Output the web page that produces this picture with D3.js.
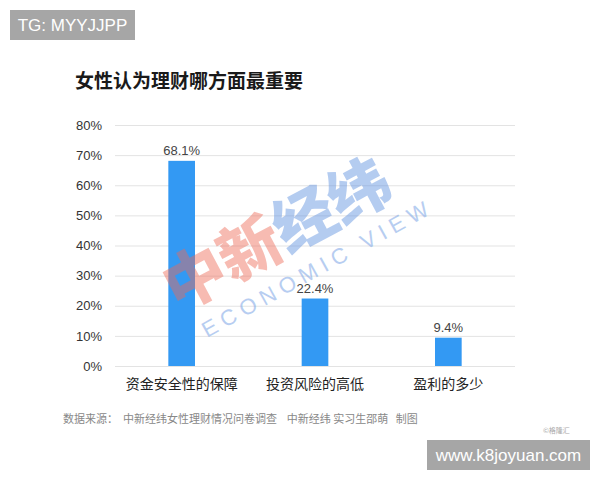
<!DOCTYPE html>
<html>
<head>
<meta charset="utf-8">
<script src="https://cdn.jsdelivr.net/npm/d3@7"></script>
<style>
  html, body { margin: 0; padding: 0; background: #fff; }
  svg { display: block; }
  text { font-family: "Noto Sans CJK SC", "Noto Sans", sans-serif; }
</style>
</head>
<body>
<svg id="chart" width="600" height="480"></svg>
<script>
// Survey results: what women consider most important in wealth management
const categories = ["资金安全性的保障", "投资风险的高低", "盈利的多少"];
const values = [68.1, 22.4, 9.4];
const yTicks = [0, 10, 20, 30, 40, 50, 60, 70, 80];

const svg = d3.select("#chart");
const W = 600, H = 480;

svg.append("rect").attr("width", W).attr("height", H).attr("fill", "#fff");

const plot = { left: 115, right: 515, top: 125, bottom: 366 };

const x = d3.scaleBand()
  .domain(categories)
  .range([plot.left, plot.right])
  .paddingInner(0.8)
  .paddingOuter(0.4);

const y = d3.scaleLinear().domain([0, 80]).range([plot.bottom, plot.top]);

// Title
svg.append("text")
  .attr("x", 75).attr("y", 88)
  .attr("font-size", 19).attr("font-weight", "bold").attr("fill", "#1a1a1a")
  .text("女性认为理财哪方面最重要");

// Gridlines and y-axis labels
const yAxis = d3.axisLeft(y)
  .tickValues(yTicks)
  .tickSize(-(plot.right - plot.left))
  .tickPadding(13)
  .tickFormat(d => d + "%");

const gy = svg.append("g")
  .attr("transform", `translate(${plot.left},0)`)
  .call(yAxis);
gy.select(".domain").remove();
gy.selectAll(".tick line").attr("stroke", "#e3e3e3").attr("stroke-width", 1);
gy.selectAll(".tick text")
  .attr("fill", "#333").attr("font-size", 13)
  .style("font-family", "Arial, 'Liberation Sans', sans-serif");

// Bars
svg.append("g").selectAll("rect")
  .data(values)
  .join("rect")
  .attr("x", (d, i) => x(categories[i]))
  .attr("y", d => y(d))
  .attr("width", x.bandwidth())
  .attr("height", d => y(0) - y(d))
  .attr("fill", "#3399f3");

// Value labels
svg.append("g").selectAll("text")
  .data(values)
  .join("text")
  .attr("x", (d, i) => x(categories[i]) + x.bandwidth() / 2)
  .attr("y", d => y(d) - 6)
  .attr("text-anchor", "middle")
  .attr("font-size", 13).attr("fill", "#444")
  .style("font-family", "Arial, 'Liberation Sans', sans-serif")
  .text(d => d.toFixed(1) + "%");

// Category labels
const gx = svg.append("g")
  .attr("transform", `translate(0,${plot.bottom})`)
  .call(d3.axisBottom(x).tickSize(0).tickPadding(13));
gx.select(".domain").remove();
gx.selectAll(".tick text")
  .attr("font-size", 14).attr("fill", "#222")
  .style("font-family", "'Noto Sans CJK SC', sans-serif");

// Watermark logo
const wmCn = svg.append("g")
  .attr("transform", "translate(178,312) rotate(-28)")
  .attr("opacity", 0.45);
wmCn.append("text")
  .attr("x", 0).attr("y", 0)
  .attr("font-size", 62).attr("font-weight", "900")
  .attr("fill", "#ee6a57")
  .text("中新");
wmCn.append("text")
  .attr("x", 124).attr("y", 0)
  .attr("font-size", 62).attr("font-weight", "900")
  .attr("fill", "#5b8fe0")
  .text("经纬");
svg.append("text")
  .attr("transform", "translate(207,338) rotate(-29)")
  .attr("font-size", 22)
  .attr("letter-spacing", 6)
  .attr("fill", "#7da6e6")
  .attr("opacity", 0.55)
  .style("font-family", "Arial, 'Liberation Sans', sans-serif")
  .text("ECONOMIC VIEW");

// Source note
svg.append("text")
  .attr("x", 63).attr("y", 423)
  .attr("font-size", 11).attr("fill", "#888")
  .attr("xml:space", "preserve")
  .style("white-space", "pre")
  .text("数据来源：  中新经纬女性理财情况问卷调查    中新经纬 实习生邵萌   制图");

svg.append("text")
  .attr("x", 543).attr("y", 433)
  .attr("font-size", 7).attr("fill", "#aaa")
  .text("©格隆汇");

// Corner badges
function badge(x0, y0, w, h, label) {
  svg.append("rect").attr("x", x0).attr("y", y0).attr("width", w).attr("height", h).attr("fill", "#a6a6a6");
  svg.append("text")
    .attr("x", x0 + w / 2).attr("y", y0 + h / 2 + 6)
    .attr("text-anchor", "middle")
    .attr("font-size", 17).attr("fill", "#fff")
    .style("font-family", "Arial, 'Liberation Sans', sans-serif")
    .text(label);
}
badge(10, 10, 125, 30, "TG: MYYJJPP");
badge(427, 440, 163, 30, "www.k8joyuan.com");
</script>
</body>
</html>
